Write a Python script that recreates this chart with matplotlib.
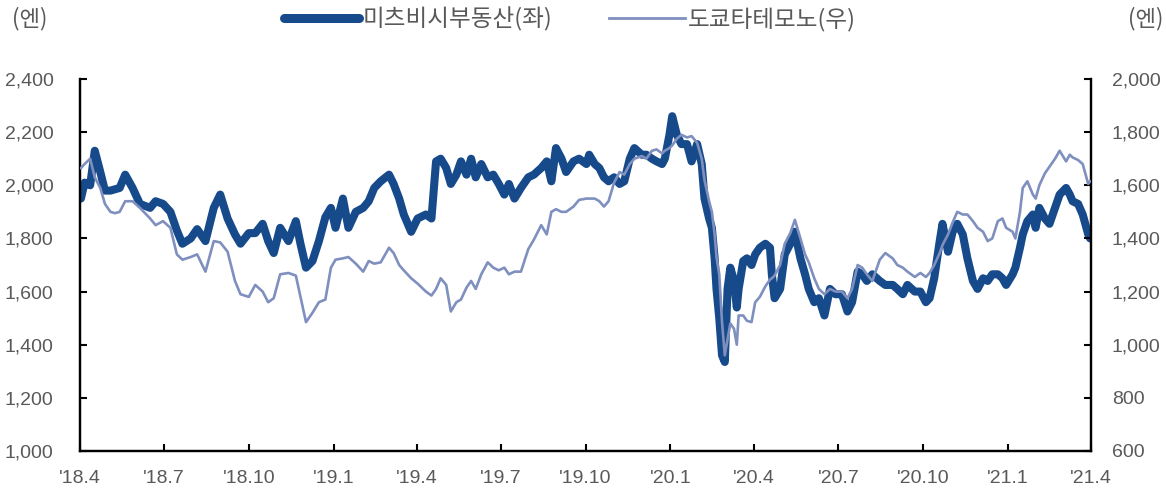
import matplotlib
matplotlib.use("Agg")
import matplotlib.pyplot as plt
from matplotlib.lines import Line2D
from matplotlib.ticker import FuncFormatter
import pandas as pd

dates = [
    "2018-04-02", "2018-04-06", "2018-04-12", "2018-04-17", "2018-04-23", "2018-04-28",
    "2018-05-04", "2018-05-09", "2018-05-14", "2018-05-20", "2018-05-28", "2018-06-05",
    "2018-06-16", "2018-06-22", "2018-06-30", "2018-07-08", "2018-07-15", "2018-07-21",
    "2018-07-30", "2018-08-06", "2018-08-15", "2018-08-24", "2018-08-31", "2018-09-08",
    "2018-09-16", "2018-09-22", "2018-10-01", "2018-10-08", "2018-10-16", "2018-10-22",
    "2018-10-28", "2018-11-04", "2018-11-13", "2018-11-21", "2018-11-26", "2018-12-02",
    "2018-12-09", "2018-12-16", "2018-12-23", "2018-12-29", "2019-01-03", "2019-01-11",
    "2019-01-17", "2019-01-25", "2019-02-02", "2019-02-08", "2019-02-14", "2019-02-21",
    "2019-03-02", "2019-03-07", "2019-03-13", "2019-03-18", "2019-03-26", "2019-04-02",
    "2019-04-11", "2019-04-17", "2019-04-22", "2019-04-27", "2019-05-03", "2019-05-08",
    "2019-05-14", "2019-05-19", "2019-05-25", "2019-05-30", "2019-06-04", "2019-06-10",
    "2019-06-17", "2019-06-23", "2019-06-29", "2019-07-05", "2019-07-10", "2019-07-16",
    "2019-07-23", "2019-07-31", "2019-08-06", "2019-08-14", "2019-08-20", "2019-08-25",
    "2019-08-30", "2019-09-05", "2019-09-10", "2019-09-18", "2019-09-24", "2019-10-02",
    "2019-10-05", "2019-10-11", "2019-10-16", "2019-10-21", "2019-10-26", "2019-11-01",
    "2019-11-07", "2019-11-12", "2019-11-18", "2019-11-23", "2019-12-01", "2019-12-06",
    "2019-12-12", "2019-12-17", "2019-12-23", "2019-12-26", "2019-12-31", "2020-01-03",
    "2020-01-08", "2020-01-13", "2020-01-19", "2020-01-24", "2020-01-30", "2020-02-04",
    "2020-02-07", "2020-02-12", "2020-02-15", "2020-02-18", "2020-02-20", "2020-02-23",
    "2020-02-26", "2020-02-29", "2020-03-03", "2020-03-06", "2020-03-10", "2020-03-13",
    "2020-03-15", "2020-03-20", "2020-03-24", "2020-03-29", "2020-04-02", "2020-04-07",
    "2020-04-13", "2020-04-18", "2020-04-20", "2020-04-23", "2020-04-29", "2020-05-04",
    "2020-05-10", "2020-05-15", "2020-05-21", "2020-05-26", "2020-05-30", "2020-06-05",
    "2020-06-10", "2020-06-16", "2020-06-22", "2020-06-28", "2020-07-05", "2020-07-11",
    "2020-07-16", "2020-07-22", "2020-07-27", "2020-08-01", "2020-08-07", "2020-08-15",
    "2020-08-21", "2020-08-29", "2020-09-03", "2020-09-09", "2020-09-14", "2020-09-22",
    "2020-09-28", "2020-10-04", "2020-10-08", "2020-10-13", "2020-10-19", "2020-10-22",
    "2020-10-28", "2020-11-02", "2020-11-07", "2020-11-13", "2020-11-18", "2020-11-24",
    "2020-11-29", "2020-12-05", "2020-12-10", "2020-12-15", "2020-12-21", "2020-12-26",
    "2020-12-30", "2021-01-06", "2021-01-09", "2021-01-14", "2021-01-17", "2021-01-22",
    "2021-01-28", "2021-01-31", "2021-02-04", "2021-02-10", "2021-02-15", "2021-02-21",
    "2021-02-26", "2021-03-05", "2021-03-09", "2021-03-12", "2021-03-18", "2021-03-23",
    "2021-03-29", "2021-03-31",
]

mitsubishi = [
    1950, 2010, 2000, 2130, 2050, 1980,
    1980, 1985, 1990, 2040, 1990, 1930,
    1915, 1940, 1930, 1900, 1830, 1780,
    1800, 1835, 1790, 1915, 1965, 1875,
    1815, 1780, 1820, 1820, 1855, 1790,
    1745, 1840, 1790, 1865, 1780, 1690,
    1715, 1790, 1880, 1915, 1840, 1950,
    1840, 1900, 1915, 1940, 1990, 2015,
    2040, 2005, 1950, 1890, 1825, 1875,
    1890, 1875, 2090, 2100, 2065, 2005,
    2040, 2090, 2040, 2100, 2030, 2080,
    2030, 2040, 2005, 1965, 2005, 1950,
    1990, 2030, 2040, 2065, 2090, 2015,
    2140, 2100, 2050, 2090, 2100, 2080,
    2115, 2080, 2065, 2030, 2015, 2030,
    2005, 2015, 2100, 2140, 2115, 2115,
    2100, 2090, 2080, 2100, 2190, 2260,
    2190, 2155, 2155, 2090, 2155, 2080,
    1950, 1875, 1840, 1725, 1610, 1500,
    1360, 1335, 1610, 1690, 1640, 1540,
    1610, 1715, 1725, 1700, 1740, 1765,
    1780, 1765, 1665, 1575, 1610, 1740,
    1780, 1825, 1725, 1665, 1610, 1560,
    1575, 1510, 1610, 1590, 1590, 1525,
    1560, 1675, 1665, 1640, 1665, 1640,
    1625, 1625, 1610, 1590, 1625, 1600,
    1600, 1560, 1575, 1650, 1790, 1855,
    1750, 1825, 1855, 1815, 1725, 1640,
    1610, 1650, 1640, 1665, 1665, 1650,
    1625, 1665, 1690, 1765, 1815, 1865,
    1890, 1840, 1915, 1875, 1855, 1915,
    1965, 1990, 1965, 1940, 1930, 1890,
    1815, 1800,
]

tokyo_tatemono = [
    1665, 1680, 1700, 1630, 1590, 1530,
    1500, 1495, 1500, 1540, 1540, 1515,
    1475, 1450, 1465, 1440, 1340, 1320,
    1330, 1340, 1275, 1390, 1385, 1350,
    1240, 1190, 1180, 1225, 1200, 1160,
    1175, 1265, 1270, 1260, 1180, 1085,
    1120, 1160, 1170, 1290, 1320, 1325,
    1330, 1305, 1275, 1315, 1305, 1310,
    1365, 1345, 1300, 1280, 1250, 1230,
    1200, 1185, 1210, 1250, 1225, 1125,
    1160, 1170, 1215, 1240, 1210, 1265,
    1310, 1290, 1280, 1290, 1265, 1275,
    1275, 1360, 1395, 1450, 1415, 1500,
    1510, 1500, 1500, 1520, 1545, 1550,
    1550, 1550, 1540, 1520, 1540, 1610,
    1650, 1640, 1680, 1700, 1710, 1700,
    1730, 1735, 1720, 1730, 1740, 1750,
    1775, 1790, 1780, 1785, 1760, 1700,
    1620, 1540, 1500, 1415, 1330, 1265,
    1085, 960, 1020, 1080, 1060, 1000,
    1110, 1110, 1090, 1085, 1160, 1180,
    1220, 1245, 1250, 1260, 1300, 1380,
    1420, 1470, 1400, 1340, 1310, 1250,
    1210, 1190, 1210, 1200, 1200, 1175,
    1210, 1300, 1290, 1265, 1240, 1320,
    1345, 1325, 1300, 1290, 1275, 1255,
    1270, 1255, 1270, 1300, 1345, 1375,
    1415, 1460, 1500, 1490, 1490, 1465,
    1440, 1425, 1390, 1400, 1465, 1475,
    1440, 1425, 1400, 1500, 1590, 1615,
    1565, 1550, 1600, 1645, 1670, 1700,
    1730, 1690, 1715, 1705, 1695, 1680,
    1605, 1615,
]

label_left = "미츠비시부동산(좌)"
label_right = "도쿄타테모노(우)"
unit_label = "(엔)"

tick_dates = ["2018-04-01", "2018-07-01", "2018-10-01", "2019-01-01", "2019-04-01",
              "2019-07-01", "2019-10-01", "2020-01-01", "2020-04-01", "2020-07-01",
              "2020-10-01", "2021-01-01", "2021-04-01"]
tick_labels = ["'18.4", "'18.7", "'18.10", "'19.1", "'19.4", "'19.7", "'19.10",
               "'20.1", "'20.4", "'20.7", "'20.10", "'21.1", "'21.4"]
left_ticks = [1000, 1200, 1400, 1600, 1800, 2000, 2200, 2400]
right_ticks = [600, 800, 1000, 1200, 1400, 1600, 1800, 2000]

DARK = "#174A8B"
LIGHT = "#7F8FBE"
GRAY = "#595959"
NUM_FONT = ["Liberation Sans Narrow", "Liberation Sans", "DejaVu Sans"]
KR_FONT = ["Noto Sans CJK KR", "DejaVu Sans"]

x = pd.to_datetime(dates)

fig = plt.figure(figsize=(11.66, 4.97), dpi=100)
ax = fig.add_axes([80 / 1166, 1 - 451 / 497, (1091 - 80) / 1166, (451 - 79) / 497])
ax2 = ax.twinx()

ax.plot(x, mitsubishi, color=DARK, lw=5.8, solid_joinstyle="round",
        solid_capstyle="round", zorder=2)
ax2.plot(x, tokyo_tatemono, color=LIGHT, lw=1.9, solid_joinstyle="round", zorder=3)

ax.set_xlim(pd.Timestamp("2018-04-01"), pd.Timestamp("2021-04-01"))
ax.set_ylim(left_ticks[0], left_ticks[-1])
ax2.set_ylim(right_ticks[0], right_ticks[-1])

ax.set_xticks(pd.to_datetime(tick_dates))
ax.set_xticklabels(tick_labels)
ax.set_yticks(left_ticks)
ax2.set_yticks(right_ticks)
fmt = FuncFormatter(lambda v, p: f"{int(v):,}")
ax.yaxis.set_major_formatter(fmt)
ax2.yaxis.set_major_formatter(fmt)

for a in (ax, ax2):
    a.spines["top"].set_visible(False)
    for s in ("left", "right", "bottom"):
        a.spines[s].set_linewidth(1.6)
        a.spines[s].set_color("black")
    a.patch.set_visible(False)

ax.tick_params(axis="y", direction="in", length=5, width=1.5, pad=19,
               labelsize=14, labelcolor=GRAY)
ax.tick_params(axis="x", direction="in", length=5, width=1.5, pad=14,
               labelsize=14, labelcolor=GRAY)
ax2.tick_params(axis="y", direction="in", length=5, width=1.5, pad=15,
                labelsize=14, labelcolor=GRAY)
for lab in ax.get_xticklabels() + ax.get_yticklabels() + ax2.get_yticklabels():
    lab.set_family(NUM_FONT)

fig.text(12 / 1166, 1 - 19 / 497, unit_label, ha="left", va="center",
         fontsize=16, color=GRAY, family=KR_FONT)
fig.text(1163 / 1166, 1 - 19 / 497, unit_label, ha="right", va="center",
         fontsize=16, color=GRAY, family=KR_FONT)

handles = [Line2D([], [], color=DARK, lw=6.5, solid_capstyle="round"),
           Line2D([], [], color=LIGHT, lw=2)]
leg = fig.legend(handles, [label_left, label_right], loc="center",
                 bbox_to_anchor=(570 / 1166, 1 - 19 / 497), ncol=2, frameon=False,
                 handlelength=3.2, handletextpad=0.15, columnspacing=2.4,
                 prop={"family": KR_FONT, "size": 17})
for t in leg.get_texts():
    t.set_color(GRAY)

fig.savefig("out.png", dpi=100)
